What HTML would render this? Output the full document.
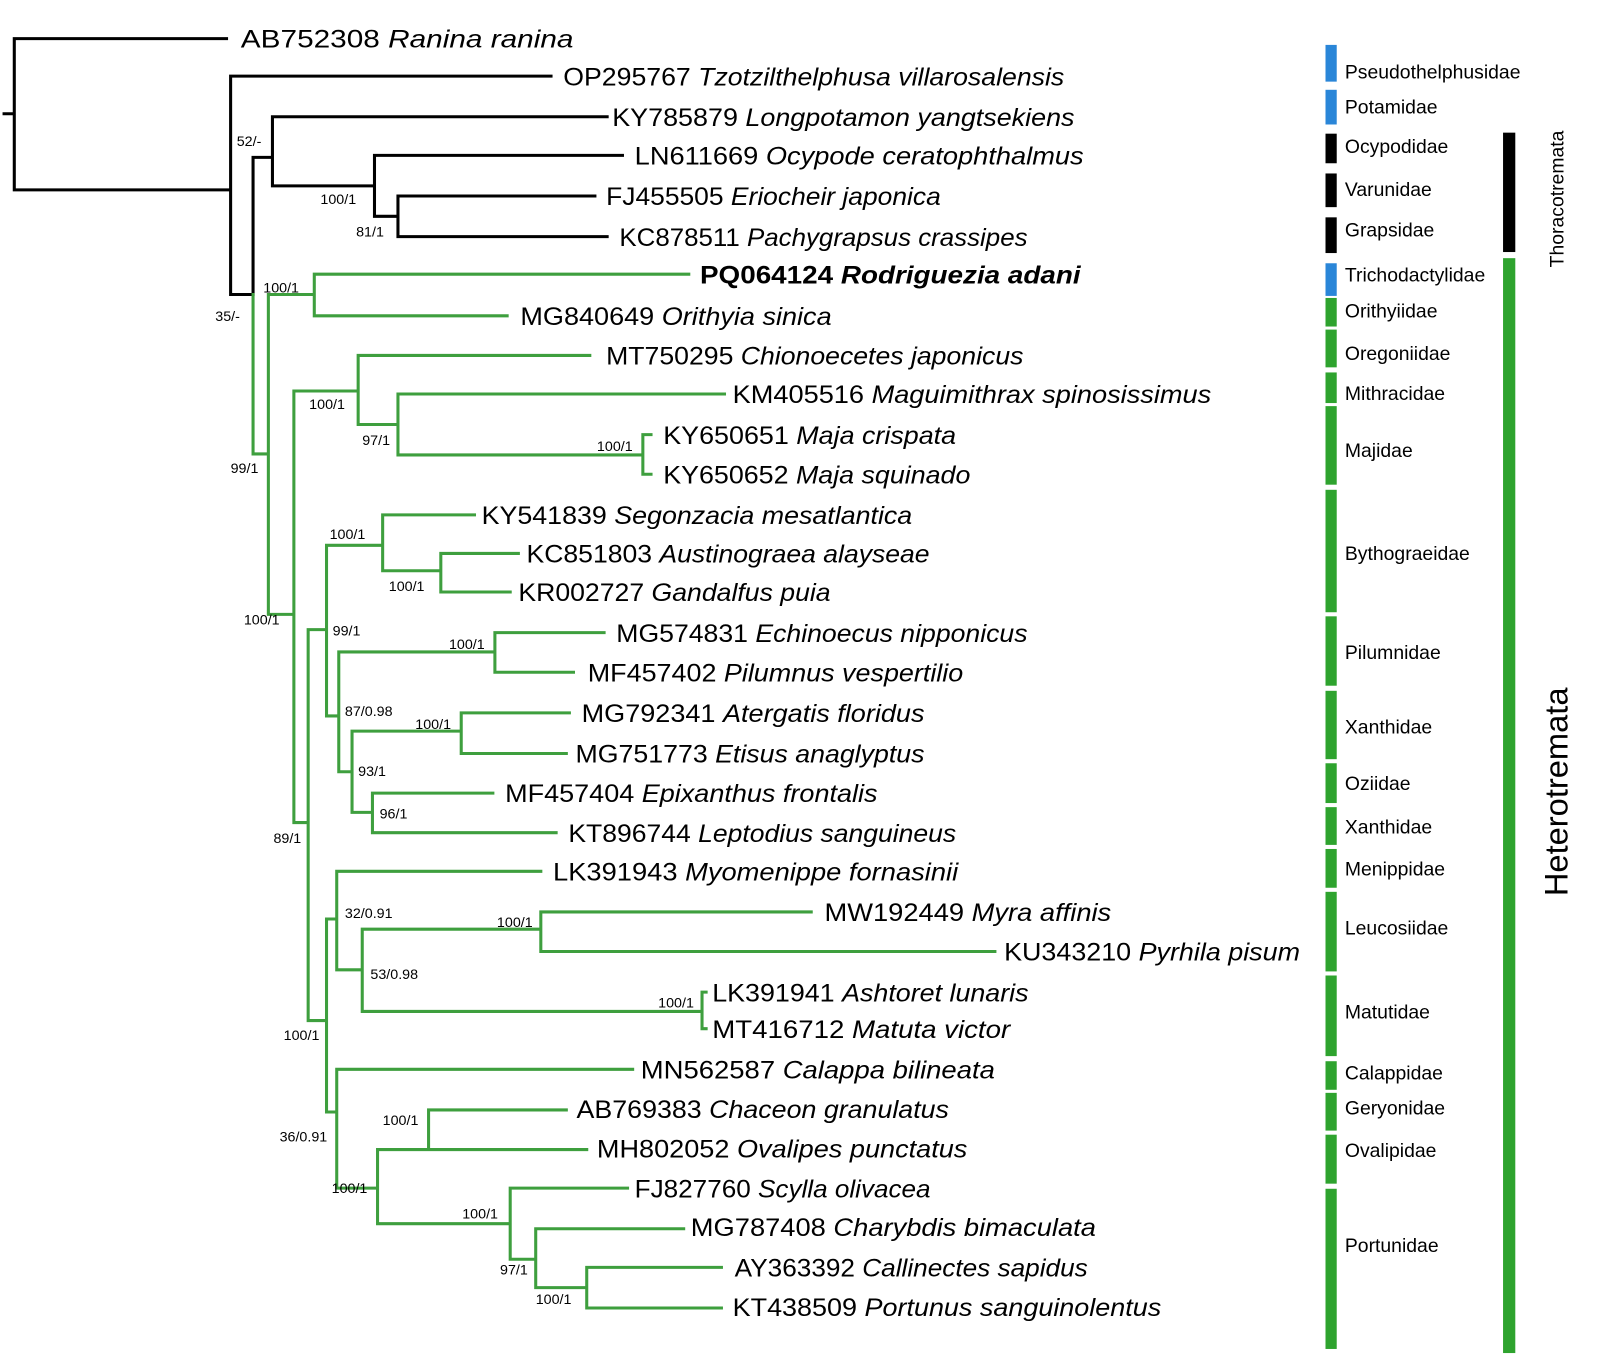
<!DOCTYPE html>
<html><head><meta charset="utf-8"><style>
html,body{margin:0;padding:0;background:#fff;}
svg{display:block;}
.t{font-family:"Liberation Sans",sans-serif;font-size:25px;fill:#000;}
.b{font-family:"Liberation Sans",sans-serif;font-size:14px;fill:#000;}
.f{font-family:"Liberation Sans",sans-serif;font-size:19px;fill:#000;}
</style></head><body>
<svg width="1600" height="1372" viewBox="0 0 1600 1372" xmlns="http://www.w3.org/2000/svg">
<g transform="scale(1.0204,1.0155)">
<g stroke="#000" stroke-width="3" fill="none" stroke-linecap="square">
<path d="M4 112H14M14 38V187M14 38H222M14 187H226M226 75V290M226 75H540M226 290H248M248 155V290M248 155H267M267 115V183M267 115H595M267 183H367M367 153V213M367 153H610M367 213H390M390 193V233M390 193H583M390 233H595"/>
</g>
<g stroke="#3e9f3e" stroke-width="3" fill="none" stroke-linecap="square">
<path d="M248 290V447M248 447H263M263 290V605M263 290H308M308 270V311M308 270H675M308 311H497
M263 605H288M288 385V810M288 385H351M351 350V418M351 350H578M351 418H390M390 388V448M390 388H710M390 448H630M630 428V467M630 428H638M630 467H638
M288 810H302M302 620V1005M302 620H320M320 537V705M320 537H375M375 507V562M375 507H465M375 562H432M432 545V583M432 545H508M432 583H500
M320 705H332M332 642V760M332 642H485M485 623V662M485 623H592M485 662H562M332 760H345M345 720V800M345 720H452M452 702V742M452 702H558M452 742H555M345 800H365M365 781V820M365 781H483M365 820H545
M302 1005H320M320 905V1095M320 905H330M330 858V955M330 858H530M330 955H355M355 915V996M355 915H530M530 898V937M530 898H795M530 937H975M355 996H688M688 977V1013M688 977H692M688 1013H692
M320 1095H330M330 1053V1170M330 1053H620M330 1170H370M370 1132V1205M370 1132H420M420 1093V1132M420 1093H555M420 1132H575M370 1205H500M500 1170V1240M500 1170H615M500 1240H525M525 1210V1268M525 1210H670M525 1268H575M575 1248V1288M575 1248H707M575 1288H707"/>
</g>
<g class="t">
<text x="236" y="47" textLength="326" lengthAdjust="spacingAndGlyphs">AB752308 <tspan font-style="italic">Ranina ranina</tspan></text>
<text x="552" y="84" textLength="491" lengthAdjust="spacingAndGlyphs">OP295767 <tspan font-style="italic">Tzotzilthelphusa villarosalensis</tspan></text>
<text x="600" y="124" textLength="453" lengthAdjust="spacingAndGlyphs">KY785879 <tspan font-style="italic">Longpotamon yangtsekiens</tspan></text>
<text x="622" y="162" textLength="440" lengthAdjust="spacingAndGlyphs">LN611669 <tspan font-style="italic">Ocypode ceratophthalmus</tspan></text>
<text x="594" y="202" textLength="328" lengthAdjust="spacingAndGlyphs">FJ455505 <tspan font-style="italic">Eriocheir japonica</tspan></text>
<text x="607" y="242" textLength="400" lengthAdjust="spacingAndGlyphs">KC878511 <tspan font-style="italic">Pachygrapsus crassipes</tspan></text>
<text x="686" y="279" textLength="373" lengthAdjust="spacingAndGlyphs" font-weight="bold">PQ064124 <tspan font-style="italic">Rodriguezia adani</tspan></text>
<text x="510" y="320" textLength="305" lengthAdjust="spacingAndGlyphs">MG840649 <tspan font-style="italic">Orithyia sinica</tspan></text>
<text x="594" y="359" textLength="409" lengthAdjust="spacingAndGlyphs">MT750295 <tspan font-style="italic">Chionoecetes japonicus</tspan></text>
<text x="718" y="397" textLength="469" lengthAdjust="spacingAndGlyphs">KM405516 <tspan font-style="italic">Maguimithrax spinosissimus</tspan></text>
<text x="650" y="437" textLength="287" lengthAdjust="spacingAndGlyphs">KY650651 <tspan font-style="italic">Maja crispata</tspan></text>
<text x="650" y="476" textLength="301" lengthAdjust="spacingAndGlyphs">KY650652 <tspan font-style="italic">Maja squinado</tspan></text>
<text x="472" y="516" textLength="422" lengthAdjust="spacingAndGlyphs">KY541839 <tspan font-style="italic">Segonzacia mesatlantica</tspan></text>
<text x="516" y="554" textLength="395" lengthAdjust="spacingAndGlyphs">KC851803 <tspan font-style="italic">Austinograea alayseae</tspan></text>
<text x="508" y="592" textLength="306" lengthAdjust="spacingAndGlyphs">KR002727 <tspan font-style="italic">Gandalfus puia</tspan></text>
<text x="604" y="632" textLength="403" lengthAdjust="spacingAndGlyphs">MG574831 <tspan font-style="italic">Echinoecus nipponicus</tspan></text>
<text x="576" y="671" textLength="368" lengthAdjust="spacingAndGlyphs">MF457402 <tspan font-style="italic">Pilumnus vespertilio</tspan></text>
<text x="570" y="711" textLength="336" lengthAdjust="spacingAndGlyphs">MG792341 <tspan font-style="italic">Atergatis floridus</tspan></text>
<text x="564" y="751" textLength="342" lengthAdjust="spacingAndGlyphs">MG751773 <tspan font-style="italic">Etisus anaglyptus</tspan></text>
<text x="495" y="790" textLength="365" lengthAdjust="spacingAndGlyphs">MF457404 <tspan font-style="italic">Epixanthus frontalis</tspan></text>
<text x="557" y="829" textLength="380" lengthAdjust="spacingAndGlyphs">KT896744 <tspan font-style="italic">Leptodius sanguineus</tspan></text>
<text x="542" y="867" textLength="397" lengthAdjust="spacingAndGlyphs">LK391943 <tspan font-style="italic">Myomenippe fornasinii</tspan></text>
<text x="808" y="907" textLength="281" lengthAdjust="spacingAndGlyphs">MW192449 <tspan font-style="italic">Myra affinis</tspan></text>
<text x="984" y="946" textLength="290" lengthAdjust="spacingAndGlyphs">KU343210 <tspan font-style="italic">Pyrhila pisum</tspan></text>
<text x="698" y="986" textLength="310" lengthAdjust="spacingAndGlyphs">LK391941 <tspan font-style="italic">Ashtoret lunaris</tspan></text>
<text x="698" y="1022" textLength="292" lengthAdjust="spacingAndGlyphs">MT416712 <tspan font-style="italic">Matuta victor</tspan></text>
<text x="628" y="1062" textLength="347" lengthAdjust="spacingAndGlyphs">MN562587 <tspan font-style="italic">Calappa bilineata</tspan></text>
<text x="565" y="1101" textLength="365" lengthAdjust="spacingAndGlyphs">AB769383 <tspan font-style="italic">Chaceon granulatus</tspan></text>
<text x="585" y="1140" textLength="363" lengthAdjust="spacingAndGlyphs">MH802052 <tspan font-style="italic">Ovalipes punctatus</tspan></text>
<text x="622" y="1179" textLength="290" lengthAdjust="spacingAndGlyphs">FJ827760 <tspan font-style="italic">Scylla olivacea</tspan></text>
<text x="677" y="1217" textLength="397" lengthAdjust="spacingAndGlyphs">MG787408 <tspan font-style="italic">Charybdis bimaculata</tspan></text>
<text x="720" y="1257" textLength="346" lengthAdjust="spacingAndGlyphs">AY363392 <tspan font-style="italic">Callinectes sapidus</tspan></text>
<text x="718" y="1296" textLength="420" lengthAdjust="spacingAndGlyphs">KT438509 <tspan font-style="italic">Portunus sanguinolentus</tspan></text>
</g>
<g class="b">
<text x="232" y="144">52/-</text><text x="314" y="201">100/1</text><text x="349" y="233">81/1</text>
<text x="258" y="288">100/1</text><text x="211" y="316">35/-</text><text x="226" y="466">99/1</text>
<text x="303" y="403">100/1</text><text x="355" y="438">97/1</text><text x="585" y="444">100/1</text>
<text x="323" y="531">100/1</text><text x="381" y="582">100/1</text><text x="239" y="615">100/1</text>
<text x="326" y="626">99/1</text><text x="440" y="639">100/1</text><text x="338" y="705">87/0.98</text>
<text x="407" y="718">100/1</text><text x="351" y="764">93/1</text><text x="372" y="806">96/1</text>
<text x="268" y="830">89/1</text><text x="338" y="904">32/0.91</text><text x="487" y="913">100/1</text>
<text x="363" y="964">53/0.98</text><text x="645" y="992">100/1</text><text x="278" y="1024">100/1</text>
<text x="375" y="1108">100/1</text><text x="274" y="1124">36/0.91</text><text x="325" y="1175">100/1</text>
<text x="453" y="1200">100/1</text><text x="490" y="1255">97/1</text><text x="525" y="1284">100/1</text>
</g>
</g>
<g transform="scale(1.0204)">
<g>
<rect x="1299" y="44" width="11" height="36" fill="#2a86d8"/>
<rect x="1299" y="88" width="11" height="34" fill="#2a86d8"/>
<rect x="1299" y="131" width="11" height="29" fill="#000"/>
<rect x="1299" y="170" width="11" height="33" fill="#000"/>
<rect x="1299" y="213" width="11" height="35" fill="#000"/>
<rect x="1299" y="258" width="11" height="32" fill="#2a86d8"/>
<g fill="#2ea32e">
<rect x="1299" y="292" width="11" height="28"/><rect x="1299" y="323" width="11" height="37"/>
<rect x="1299" y="365" width="11" height="30"/><rect x="1299" y="398" width="11" height="77"/>
<rect x="1299" y="480" width="11" height="120"/><rect x="1299" y="604" width="11" height="68"/>
<rect x="1299" y="677" width="11" height="67"/><rect x="1299" y="748" width="11" height="39"/>
<rect x="1299" y="791" width="11" height="37"/><rect x="1299" y="832" width="11" height="38"/>
<rect x="1299" y="874" width="11" height="78"/><rect x="1299" y="956" width="11" height="79"/>
<rect x="1299" y="1040" width="11" height="28"/><rect x="1299" y="1071" width="11" height="37"/>
<rect x="1299" y="1112" width="11" height="48"/><rect x="1299" y="1165" width="11" height="157"/>
<rect x="1473" y="253" width="12" height="1073"/>
</g>
<rect x="1473" y="130" width="12" height="117" fill="#000"/>
</g>
<g class="f">
<text x="1318" y="77">Pseudothelphusidae</text><text x="1318" y="111">Potamidae</text>
<text x="1318" y="150">Ocypodidae</text><text x="1318" y="192">Varunidae</text>
<text x="1318" y="232">Grapsidae</text><text x="1318" y="276">Trichodactylidae</text>
<text x="1318" y="311">Orithyiidae</text><text x="1318" y="353">Oregoniidae</text>
<text x="1318" y="392">Mithracidae</text><text x="1318" y="448">Majidae</text>
<text x="1318" y="549">Bythograeidae</text><text x="1318" y="646">Pilumnidae</text>
<text x="1318" y="719">Xanthidae</text><text x="1318" y="774">Oziidae</text>
<text x="1318" y="817">Xanthidae</text><text x="1318" y="858">Menippidae</text>
<text x="1318" y="916">Leucosiidae</text><text x="1318" y="998">Matutidae</text>
<text x="1318" y="1058">Calappidae</text><text x="1318" y="1092">Geryonidae</text>
<text x="1318" y="1134">Ovalipidae</text><text x="1318" y="1227">Portunidae</text>
</g>
<text transform="translate(1532,195) rotate(-90)" text-anchor="middle" font-family="Liberation Sans, sans-serif" font-size="19">Thoracotremata</text>
<text transform="translate(1536,776) rotate(-90)" text-anchor="middle" font-family="Liberation Sans, sans-serif" font-size="32">Heterotremata</text>
</g>
</svg>
</body></html>
